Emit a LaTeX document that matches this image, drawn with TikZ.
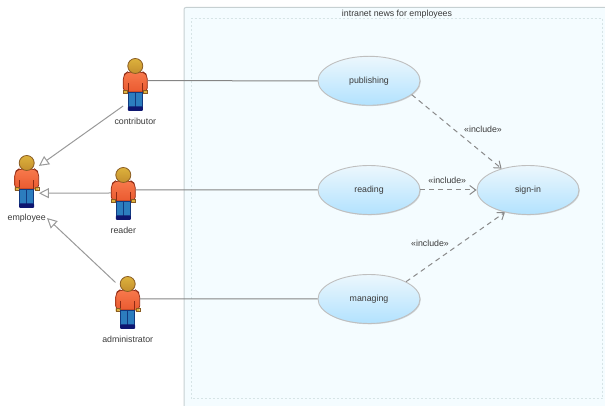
\documentclass[tikz,border=0pt]{standalone}
\usepackage{fontspec}
\setmainfont{Liberation Sans}
\usetikzlibrary{arrows.meta,shapes.geometric,shadows}
\definecolor{txtgray}{HTML}{3A3A3A}
\definecolor{linegray}{HTML}{999999}
\definecolor{assocgray}{HTML}{858585}
\definecolor{dashgray}{HTML}{8A8A8A}
\definecolor{framegray}{HTML}{C6D0D2}
\definecolor{dotgray}{HTML}{D6E4E6}
\definecolor{sysblue}{HTML}{F4FCFF}
\definecolor{casetop}{HTML}{ECF7FD}
\definecolor{casebot}{HTML}{B2E2FE}
\definecolor{shirttop}{HTML}{F7794C}
\definecolor{shirtbot}{HTML}{EA5A30}
\definecolor{shirtline}{HTML}{8E2A14}
\definecolor{skin}{HTML}{DDB23C}
\definecolor{skinlow}{HTML}{C48F2E}
\definecolor{skinline}{HTML}{8A5C22}
\definecolor{jeans}{HTML}{2C7DBE}
\definecolor{jeansline}{HTML}{123A80}
\definecolor{shoes}{HTML}{0E1670}
\tikzset{
  usecase/.style={ellipse,draw=black!25,line width=.9pt,minimum width=102pt,minimum height=49pt,inner sep=0pt,
    top color=casetop,bottom color=casebot,text=txtgray,font=\fontsize{8.8}{10}\selectfont,
    drop shadow={shadow xshift=.8pt,shadow yshift=-.8pt,opacity=.3}},
  actorbox/.style={minimum width=24pt,minimum height=54pt,inner sep=0pt},
  actorlbl/.style={text=txtgray,font=\fontsize{8.8}{10}\selectfont,inner sep=1pt},
  inclbl/.style={text=txtgray,font=\fontsize{8.8}{10}\selectfont,inner sep=0pt},
  assoc/.style={draw=assocgray,line width=1pt},
  generalize/.style={draw=linegray,line width=1pt,-{Triangle[open,fill=white,length=10pt,width=10pt]}},
  include/.style={draw=dashgray,line width=1pt,dash pattern=on 5pt off 4pt,-{Straight Barb[length=6pt,width=9pt]}},
  actorfig/.pic={
    \shade[top color=shirttop,bottom color=shirtbot,draw=shirtline,line width=.7pt,rounded corners=4pt]
      (-12,-8) -- (-12,9) -- (-8,12) -- (8,12) -- (12,9) -- (12,-8) -- cycle;
    \draw[shirtline,line width=.7pt] (-7,-8) -- (-7,1) (7,-8) -- (7,1);
    \fill[skin,draw=skinline,line width=.4pt] (-12,-9.5) rectangle (-8,-6.5) (8,-9.5) rectangle (12,-6.5);
    \fill[jeans,draw=jeansline,line width=.6pt] (-7,-8) rectangle (7,-25);
    \draw[jeansline,line width=.7pt] (0,-8) -- (0,-24);
    \fill[shoes,rounded corners=1pt] (-7.5,-22.5) rectangle (7.5,-27);
    \shade[top color=skin,bottom color=skinlow,draw=skinline,line width=.8pt] (0,18) circle (7.5);
  }
}
\begin{document}
\begin{tikzpicture}[x=1pt,y=1pt]
  \useasboundingbox (0,0) rectangle (605,406);
  \fill[sysblue,draw=framegray,line width=1pt,rounded corners=2pt] (184,-5) rectangle (615,398.5);
  \draw[dotgray,line width=1pt,dash pattern=on 2pt off 2pt] (191,7) rectangle (602.3,387.5);
  \node[actorlbl] (systitle) at (397,392) {intranet news for employees};
  \foreach \name/\x/\y in {employee/26.7/225,contributor/135.3/322,reader/123.3/213,administrator/127.7/104}{
    \node[actorbox] (\name) at (\x,\y) {};
    \pic at (\x,\y) {actorfig};
    \node[actorlbl] (\name lbl) at (\x,\y-37) {\name};
  }
  \node[usecase] (publishing) at (369,325.2) {publishing};
  \node[usecase] (reading) at (369,216) {reading};
  \node[usecase] (managing) at (369,107) {managing};
  \node[usecase] (signin) at (528,216) {sign-in};
  \draw[assoc] (contributor.15) -- (publishing);
  \draw[assoc] (reader.14) -- (reading);
  \draw[assoc] (administrator.14) -- (managing);
  \draw[generalize] (contributor.241) -- (employee.51);
  \draw[generalize] (reader.west) -- (employee.-45);
  \draw[generalize] (administrator.122) -- (employeelbl.east);
  \draw[include] (publishing.-18) -- (signin.141);
  \draw[include] (reading.east) -- (signin.west);
  \draw[include] (managing.25) -- (signin.224);
  \node[inclbl] (inc1) at (483,277) {«include»};
  \node[inclbl] (inc2) at (447.3,226) {«include»};
  \node[inclbl] (inc3) at (430,162.7) {«include»};
\end{tikzpicture}
\end{document}
